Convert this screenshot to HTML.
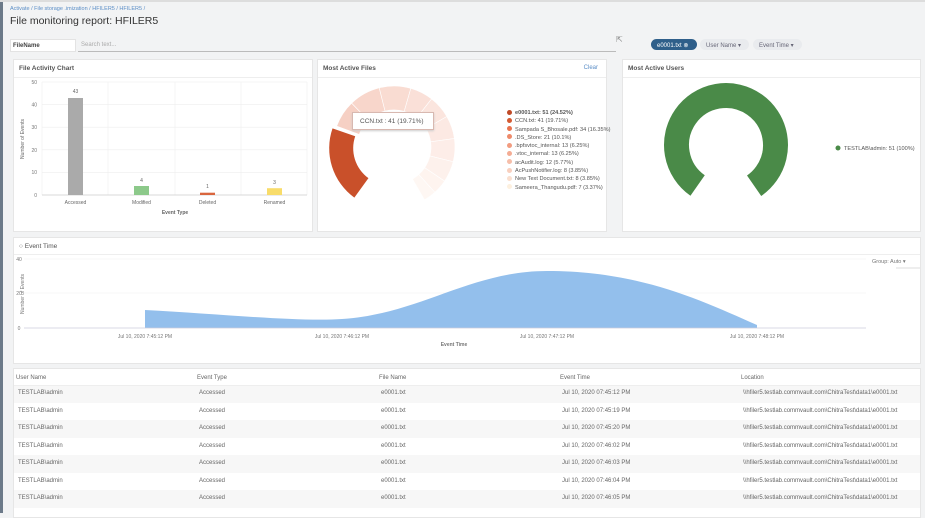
<!DOCTYPE html>
<html><head><meta charset="utf-8"><style>
*{margin:0;padding:0;box-sizing:border-box}
body{width:925px;height:513px;background:#f2f3f4;font-family:"Liberation Sans",sans-serif;position:relative;overflow:hidden;color:#444}
.abs{position:absolute}
.card{position:absolute;background:#fff;border:1px solid #e6e6e6}
.hdr{position:absolute;left:0;right:0;top:0;height:18px;border-bottom:1px solid #eee;font-size:6.5px;font-weight:bold;color:#555;padding:5px 0 0 5px}
.t{position:absolute;font-size:6px;color:#666;white-space:nowrap}
.row{position:absolute;left:0;right:0;height:17.5px}
.b{display:inline-block;width:5px;height:5px;border-radius:50%;margin-right:3px;vertical-align:-0.5px}
</style></head><body>
<div class="abs" style="left:0;top:0;width:3px;height:513px;background:#6c7a89"></div>
<div class="abs" style="left:0;top:0;width:925px;height:2px;background:#ddd"></div>
<div class="t" style="left:10px;top:6px;color:#5b8ec7;font-size:5.5px">Activate / File storage .imization / HFILER5 / HFILER5 /</div>
<div class="t" style="left:10px;top:15px;font-size:10.5px;color:#333">File monitoring report: HFILER5</div>
<div class="abs" style="left:10px;top:39px;width:66px;height:13px;background:#fff;border:1px solid #e3e3e3;font-size:6px;font-weight:bold;padding:3px 0 0 2px;color:#444">FileName</div>
<div class="t" style="left:81px;top:42px;color:#aaa">Search text...</div>
<div class="abs" style="left:78px;top:51px;width:538px;height:1px;background:#bbb"></div>
<div class="t" style="left:616px;top:35px;font-size:8px;color:#888">⇱</div>
<div class="abs" style="left:651px;top:39px;width:46px;height:11px;border-radius:6px;background:#2f5f8a;color:#fff;font-size:6px;padding:2.5px 0 0 6px">e0001.txt ⊗</div>
<div class="abs" style="left:700px;top:39px;width:49px;height:11px;border-radius:6px;background:#e9ebee;color:#667;font-size:6px;padding:2.5px 0 0 6px">User Name ▾</div>
<div class="abs" style="left:753px;top:39px;width:49px;height:11px;border-radius:6px;background:#e9ebee;color:#667;font-size:6px;padding:2.5px 0 0 6px">Event Time ▾</div>

<div class="card" style="left:13px;top:59px;width:300px;height:173px"><div class="hdr">File Activity Chart</div></div>
<svg class="abs" style="left:0;top:0" width="925" height="513">
<g stroke="#eee" stroke-width="0.6">
<line x1="42" x2="307" y1="82" y2="82"/><line x1="42" x2="307" y1="104.6" y2="104.6"/><line x1="42" x2="307" y1="127.2" y2="127.2"/><line x1="42" x2="307" y1="149.8" y2="149.8"/><line x1="42" x2="307" y1="172.4" y2="172.4"/>
<line x1="42" x2="42" y1="82" y2="195"/><line x1="108" x2="108" y1="82" y2="195"/><line x1="175" x2="175" y1="82" y2="195"/><line x1="241" x2="241" y1="82" y2="195"/><line x1="307" x2="307" y1="82" y2="195"/>
</g>
<line x1="42" x2="307" y1="195" y2="195" stroke="#ccc" stroke-width="0.8"/>
<rect x="68" y="98" width="15" height="97" fill="#aaa"/>
<rect x="134" y="186" width="15" height="9" fill="#8cc98a"/>
<rect x="200" y="192.7" width="15" height="2.3" fill="#d9663e"/>
<rect x="267" y="188.2" width="15" height="6.8" fill="#f8dc6a"/>
<g font-size="5" fill="#777" font-family="Liberation Sans" text-anchor="end">
<text x="37" y="84">50</text><text x="37" y="106.5">40</text><text x="37" y="129">30</text><text x="37" y="152">20</text><text x="37" y="174">10</text><text x="37" y="197">0</text></g>
<g font-size="5" fill="#666" font-family="Liberation Sans" text-anchor="middle">
<text x="75.5" y="93">43</text><text x="141.5" y="182">4</text><text x="207.5" y="188">1</text><text x="274.5" y="184">3</text>
<text x="75.5" y="204">Accessed</text><text x="141.5" y="204">Modified</text><text x="207.5" y="204">Deleted</text><text x="274.5" y="204">Renamed</text>
<text x="175" y="214" font-weight="bold">Event Type</text>
<text transform="translate(24,139) rotate(-90)">Number of Events</text></g>
</svg>

<div class="card" style="left:317px;top:59px;width:290px;height:173px"><div class="hdr">Most Active Files</div><div class="t" style="right:8px;top:5px;color:#5b8ec7">Clear</div></div>
<svg class="abs" style="left:0;top:0" width="925" height="513" id="d2"></svg>
<div class="abs" style="left:352px;top:112px;width:82px;height:18px;background:#fff;border:1px solid #d8b8b0;box-shadow:0 1px 2px #ccc;font-size:6.5px;color:#555;padding:5px 0 0 7px">CCN.txt : 41 (19.71%)</div>
<div class="abs" style="left:507px;top:109px;font-size:5.6px;color:#555;line-height:8.3px">
<div><span class="b" style="background:#c04a27"></span><b>e0001.txt: 51 (24.52%)</b></div>
<div><span class="b" style="background:#d45a32"></span>CCN.txt: 41 (19.71%)</div>
<div><span class="b" style="background:#e8734f"></span>Sampada S_Bhosale.pdf: 34 (16.35%)</div>
<div><span class="b" style="background:#ee8a6a"></span>.DS_Store: 21 (10.1%)</div>
<div><span class="b" style="background:#f29c80"></span>.bpfsvtoc_internal: 13 (6.25%)</div>
<div><span class="b" style="background:#f4ac94"></span>.vtoc_internal: 13 (6.25%)</div>
<div><span class="b" style="background:#f6bea9"></span>acAudit.log: 12 (5.77%)</div>
<div><span class="b" style="background:#f8cfbe"></span>AcPushNotifier.log: 8 (3.85%)</div>
<div><span class="b" style="background:#fadfcf"></span>New Text Document.txt: 8 (3.85%)</div>
<div><span class="b" style="background:#fdf0df"></span>Sameera_Thangudu.pdf: 7 (3.37%)</div>
</div>

<div class="card" style="left:622px;top:59px;width:299px;height:173px"><div class="hdr">Most Active Users</div></div>
<svg class="abs" style="left:0;top:0" width="925" height="513">
<circle cx="726" cy="145" r="49.5" fill="none" stroke="#4a8a48" stroke-width="25" stroke-dasharray="250.5 400" transform="rotate(125 726 145)"/>
<circle cx="838" cy="148" r="2.5" fill="#4a8a48"/>
<text x="844" y="150" font-size="5.6" fill="#555" font-family="Liberation Sans">TESTLAB\admin: 51 (100%)</text>
</svg>

<div class="card" style="left:13px;top:237px;width:908px;height:127px"><div class="hdr" style="font-weight:normal;height:17px">○ Event Time</div></div>
<svg class="abs" style="left:0;top:0" width="925" height="513">
<line x1="24" x2="866" y1="293" y2="293" stroke="#f0f0f0" stroke-width="0.6"/>
<line x1="24" x2="866" y1="259" y2="259" stroke="#f0f0f0" stroke-width="0.6"/>
<path d="M145 310 C220 314,300 322,342 319 C420 314,470 271,547 271 C640 271,700 300,757 325 L757 328 L145 328 Z" fill="#93bfec"/>
<line x1="24" x2="866" y1="328" y2="328" stroke="#ccd" stroke-width="0.8"/>
<g font-size="5" fill="#777" font-family="Liberation Sans" text-anchor="middle">
<text x="19" y="261">40</text><text x="19" y="295">20</text><text x="19" y="330">0</text>
<text x="145" y="338">Jul 10, 2020 7:45:12 PM</text><text x="342" y="338">Jul 10, 2020 7:46:12 PM</text><text x="547" y="338">Jul 10, 2020 7:47:12 PM</text><text x="757" y="338">Jul 10, 2020 7:48:12 PM</text>
<text x="454" y="346" font-weight="bold">Event Time</text>
<text transform="translate(24,294) rotate(-90)">Number of Events</text></g>
<text x="872" y="263" font-size="5.5" fill="#777" font-family="Liberation Sans">Group:  Auto ▾</text>
<line x1="896" x2="920" y1="268" y2="268" stroke="#bbb" stroke-width="0.6"/>
</svg>

<div class="card" style="left:13px;top:368px;width:908px;height:150px">
<div class="row" style="top:16px;background:#f7f7f7"></div>
<div class="row" style="top:51px;background:#f7f7f7"></div>
<div class="row" style="top:86px;background:#f7f7f7"></div>
<div class="row" style="top:121px;background:#f7f7f7"></div>
<div class="abs" style="left:0;right:0;top:16px;height:1px;background:#eee"></div>
</div>
<div id="tbl"></div>
<script>
var s='',cols=[16,197,379,560,741];
var h=['User Name','Event Type','File Name','Event Time','Location'];
h.forEach(function(t,i){s+='<div class="t" style="left:'+cols[i]+'px;top:375px">'+t+'</div>'});
var times=['07:45:12','07:45:19','07:45:20','07:46:02','07:46:03','07:46:04','07:46:05'];
times.forEach(function(tm,r){var y=390+r*17.5;
var v=['TESTLAB\\admin','Accessed','e0001.txt','Jul 10, 2020 '+tm+' PM','\\\\hfiler5.testlab.commvault.com\\ChitraTest\\data1\\e0001.txt'];
v.forEach(function(t,i){s+='<div class="t" style="left:'+(cols[i]+2)+'px;top:'+y+'px">'+t.replace(/</g,'&lt;')+'</div>'});});
document.getElementById('tbl').innerHTML=s;
function arc(cx,cy,r0,r1,a0,a1){function p(r,a){a=a*Math.PI/180;return (cx+r*Math.cos(a)).toFixed(2)+' '+(cy+r*Math.sin(a)).toFixed(2)}
var l=(a1-a0)>180?1:0;return 'M'+p(r1,a0)+' A'+r1+' '+r1+' 0 '+l+' 1 '+p(r1,a1)+' L'+p(r0,a1)+' A'+r0+' '+r0+' 0 '+l+' 0 '+p(r0,a0)+'Z'}
var cx=394,cy=147,d='';
var cs=['#f6d0c4','#f8d6cb','#f9dcd2','#fae0d8','#fbe5de','#fce9e3','#fdede8','#fdf1ec','#fef4ef','#fef7f3'];
var a=200;var sp=[26,30,30,22,22,22,22,20,14,12];
sp.forEach(function(w,i){d+='<path d="'+arc(cx,cy,37,61,a,a+w)+'" fill="'+cs[i]+'" stroke="#fff" stroke-width="0.6"/>';a+=w;});
var m=162*Math.PI/180,ox=4*Math.cos(m),oy=4*Math.sin(m);
d+='<path d="'+arc(cx+ox,cy+oy,37,61,126,199)+'" fill="#c9502a"/>';
document.getElementById('d2').innerHTML=d;
</script>
</body></html>
